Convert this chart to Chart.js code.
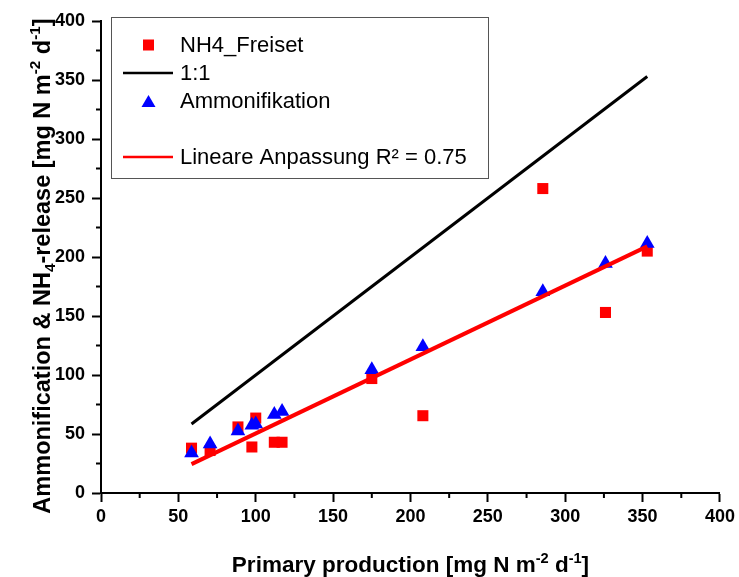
<!DOCTYPE html>
<html>
<head>
<meta charset="utf-8">
<script src="https://cdn.jsdelivr.net/npm/chart.js@4.4.1/dist/chart.umd.min.js"></script>
<style>
  html, body { margin: 0; padding: 0; background: #fff; }
  #wrap { width: 739px; height: 577px; }
</style>
</head>
<body>
<div id="wrap"><canvas id="chart" width="739" height="577"></canvas></div>
<script>
// values
const primaryProd = [58.5, 70.5, 88.5, 97.5, 100, 112, 117, 175, 208, 285.5, 326, 353];
const nh4Freiset = [38, 36, 56, 39, 63.5, 43, 43, 97, 65.5, 258, 153, 205];
const ammonifikation = [34, 41.5, 52.5, 57.5, 58.5, 66.5, 69, 104.5, 124, 170.5, 194.5, 211.5];
const oneToOneX = [58.5, 353];
const oneToOneY = [58.5, 353];
const fitX = [58.5, 353];
const fitY = [24.5, 209];
const axisTicks = [0, 50, 100, 150, 200, 250, 300, 350, 400];
const minorTicks = [25, 75, 125, 175, 225, 275, 325, 375];

const legendItems = [
    { label: 'NH4_Freiset', kind: 'square', color: '#ff0000' },
    { label: '1:1', kind: 'line', color: '#000000' },
    { label: 'Ammonifikation', kind: 'triangle', color: '#0000ff' },
    { label: '', kind: 'none' },
    { label: 'Lineare Anpassung R\u00b2 = 0.75', kind: 'line', color: '#ff0000' }
];

function pts(xs, ys) {
    return xs.map((x, i) => ({ x: x, y: ys[i] }));
}

// minor ticks (Chart.js only draws the major ones)
const minorTickPlugin = {
    id: 'minorTicks',
    afterDraw(chart) {
        const ctx = chart.ctx;
        const xs = chart.scales.x, ys = chart.scales.y;
        const area = chart.chartArea;
        ctx.save();
        ctx.strokeStyle = '#000';
        ctx.lineWidth = 2;
        ctx.beginPath();
        minorTicks.forEach(v => {
            const px = xs.getPixelForValue(v);
            ctx.moveTo(px, area.bottom);
            ctx.lineTo(px, area.bottom + 5);
            const py = ys.getPixelForValue(v);
            ctx.moveTo(area.left, py);
            ctx.lineTo(area.left - 5, py);
        });
        ctx.stroke();
        ctx.restore();
    }
};

// draws text pieces with super/subscripts
function drawRich(ctx, parts, size) {
    let w = 0;
    parts.forEach(p => {
        ctx.font = 'bold ' + (p.s ? size * 0.65 : size) + 'px "Liberation Sans", Arial, sans-serif';
        w += ctx.measureText(p.t).width;
    });
    let x = -w / 2;
    parts.forEach(p => {
        const fs = p.s ? size * 0.65 : size;
        ctx.font = 'bold ' + fs + 'px "Liberation Sans", Arial, sans-serif';
        let dy = 0;
        if (p.s === 'sup') dy = -size * 0.42;
        if (p.s === 'sub') dy = size * 0.22;
        ctx.fillText(p.t, x, dy);
        x += ctx.measureText(p.t).width;
    });
}

const axisTitlePlugin = {
    id: 'axisTitles',
    afterDraw(chart) {
        const ctx = chart.ctx;
        const area = chart.chartArea;
        ctx.save();
        ctx.fillStyle = '#000';
        ctx.textBaseline = 'alphabetic';
        ctx.textAlign = 'left';
        ctx.translate((area.left + area.right) / 2, 572);
        drawRich(ctx, [
            { t: 'Primary production [mg N m' }, { t: '-2', s: 'sup' },
            { t: ' d' }, { t: '-1', s: 'sup' }, { t: ']' }
        ], 22.5);
        ctx.restore();

        ctx.save();
        ctx.fillStyle = '#000';
        ctx.textBaseline = 'alphabetic';
        ctx.textAlign = 'left';
        ctx.translate(50, (area.top + area.bottom) / 2 + 9);
        ctx.rotate(-Math.PI / 2);
        drawRich(ctx, [
            { t: 'Ammonification & NH' }, { t: '4', s: 'sub' },
            { t: '-release [mg N m' }, { t: '-2', s: 'sup' },
            { t: ' d' }, { t: '-1', s: 'sup' }, { t: ']' }
        ], 23.5);
        ctx.restore();
    }
};

const legendBoxPlugin = {
    id: 'legendBox',
    afterDraw(chart) {
        const ctx = chart.ctx;
        ctx.save();
        ctx.fillStyle = '#fff';
        ctx.fillRect(111, 17, 377, 161);
        ctx.strokeStyle = '#555';
        ctx.lineWidth = 1;
        ctx.strokeRect(111.5, 17.5, 377, 161);
        ctx.font = '22px "Liberation Sans", Arial, sans-serif';
        ctx.textBaseline = 'middle';
        ctx.textAlign = 'left';
        legendItems.forEach((it, i) => {
            const cy = 45 + i * 28;
            if (it.kind === 'square') {
                ctx.fillStyle = it.color;
                ctx.fillRect(143, cy - 5.5, 11, 11);
            } else if (it.kind === 'line') {
                ctx.strokeStyle = it.color;
                ctx.lineWidth = 2.5;
                ctx.beginPath();
                ctx.moveTo(123, cy);
                ctx.lineTo(173, cy);
                ctx.stroke();
            } else if (it.kind === 'triangle') {
                ctx.fillStyle = it.color;
                ctx.beginPath();
                ctx.moveTo(148.5, cy - 6);
                ctx.lineTo(155.5, cy + 6);
                ctx.lineTo(141.5, cy + 6);
                ctx.closePath();
                ctx.fill();
            }
            ctx.fillStyle = '#000';
            ctx.fillText(it.label, 180, cy + 1);
        });
        ctx.restore();
    }
};

const tickFont = { family: '"Liberation Sans", Arial, sans-serif', size: 18, weight: 'bold' };

new Chart(document.getElementById('chart'), {
    type: 'scatter',
    data: {
        datasets: [
            {
                label: 'NH4_Freiset',
                data: pts(primaryProd, nh4Freiset),
                pointStyle: 'rect',
                pointRadius: 7.8,
                backgroundColor: '#ff0000',
                borderColor: '#ff0000',
                borderWidth: 0,
                order: 4
            },
            {
                label: '1:1',
                type: 'line',
                data: pts(oneToOneX, oneToOneY),
                borderColor: '#000000',
                borderWidth: 3,
                pointRadius: 0,
                fill: false,
                order: 3
            },
            {
                label: 'Ammonifikation',
                data: pts(primaryProd, ammonifikation),
                pointStyle: 'triangle',
                pointRadius: 8.5,
                backgroundColor: '#0000ff',
                borderColor: '#0000ff',
                borderWidth: 0,
                order: 2
            },
            {
                label: 'Lineare Anpassung R\u00b2 = 0.75',
                type: 'line',
                data: pts(fitX, fitY),
                borderColor: '#ff0000',
                borderWidth: 4,
                pointRadius: 0,
                fill: false,
                order: 1
            }
        ]
    },
    options: {
        responsive: false,
        animation: false,
        layout: { padding: { top: 21, right: 17, left: 0, bottom: 0 } },
        plugins: {
            legend: { display: false },
            tooltip: { enabled: false }
        },
        scales: {
            x: {
                type: 'linear',
                min: 0,
                max: 400,
                afterBuildTicks: s => { s.ticks = axisTicks.map(v => ({ value: v })); },
                afterFit: s => { s.height = 84; },
                border: { color: '#000', width: 2 },
                grid: { drawOnChartArea: false, tickLength: 9, tickColor: '#000', tickWidth: 2 },
                ticks: { color: '#000', font: tickFont, padding: 4, maxRotation: 0 },
                title: { display: false }
            },
            y: {
                type: 'linear',
                min: 0,
                max: 400,
                afterBuildTicks: s => { s.ticks = axisTicks.map(v => ({ value: v })); },
                afterFit: s => { s.width = 101; },
                border: { color: '#000', width: 2 },
                grid: { drawOnChartArea: false, tickLength: 9, tickColor: '#000', tickWidth: 2 },
                ticks: { color: '#000', font: tickFont, padding: 7 },
                title: { display: false }
            }
        }
    },
    plugins: [minorTickPlugin, axisTitlePlugin, legendBoxPlugin]
});
</script>
</body>
</html>
